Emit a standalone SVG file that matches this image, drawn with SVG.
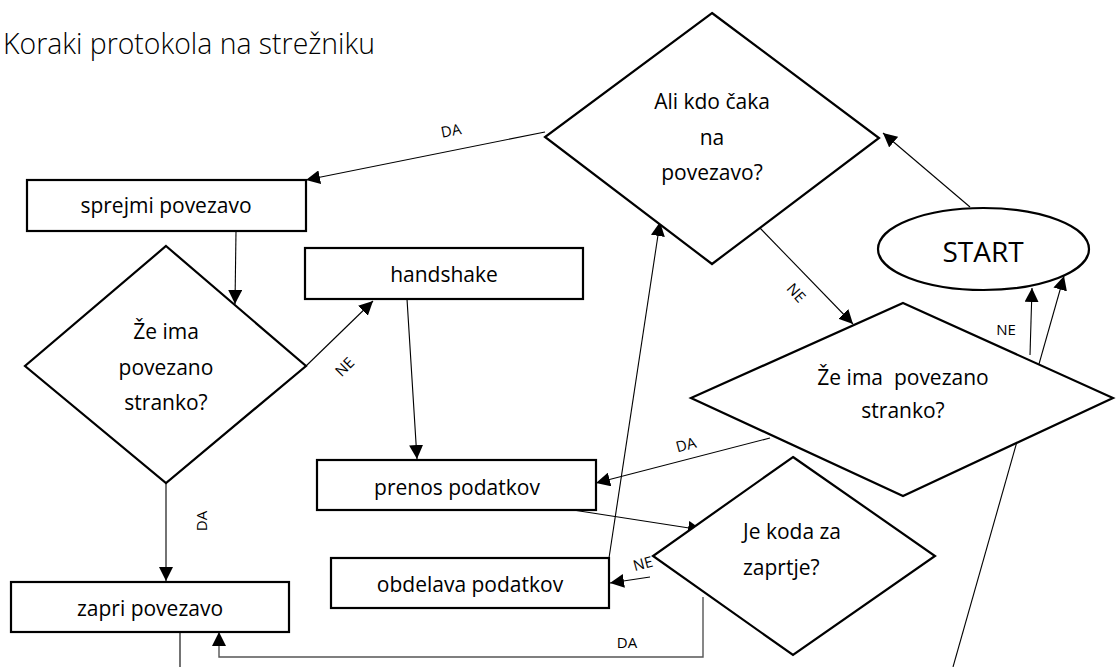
<svg xmlns="http://www.w3.org/2000/svg" width="1116" height="667" viewBox="0 0 1116 667">
  <style>
    .box { fill: #ffffff; stroke: #000000; stroke-width: 2.2; }
    .dia { fill: #ffffff; stroke: #000000; stroke-width: 2.2; stroke-linejoin: miter; }
    .txt { font-family: "Open Sans", "Liberation Sans", sans-serif; font-size: 21px; fill: #000000; }
    .mid { text-anchor: middle; }
    .lbl { font-family: "Open Sans", "Liberation Sans", sans-serif; font-size: 15px; fill: #000000; text-anchor: middle; }
    .title { font-family: "Open Sans", "Liberation Sans", sans-serif; font-weight: 300; font-size: 29px; fill: #000000; }
    .edge { fill: none; stroke: #000000; stroke-width: 1.1; }
    .edge-gray { fill: none; stroke: #555555; stroke-width: 1.4; }
  </style>
  <defs>
    <marker id="arrow" markerUnits="userSpaceOnUse" markerWidth="14" markerHeight="14" refX="14" refY="7" orient="auto">
      <path d="M0,0 L14,7 L0,14 z" fill="#000000"/>
    </marker>
  </defs>

  <rect width="1116" height="667" fill="#ffffff"/>

  <text class="title" x="3" y="54" textLength="372" lengthAdjust="spacingAndGlyphs">Koraki protokola na strežniku</text>

  <!-- connectors -->
  <g id="connectors">
    <path class="edge" d="M545,132 L306,180" marker-end="url(#arrow)"/>
    <path class="edge" d="M236,231 L235,304" marker-end="url(#arrow)"/>
    <path class="edge" d="M306,366 L373,301" marker-end="url(#arrow)"/>
    <path class="edge" d="M166,483 L166,581" marker-end="url(#arrow)"/>
    <path class="edge" d="M407,299 L417,459" marker-end="url(#arrow)"/>
    <path class="edge" d="M573,510 L702,530" marker-end="url(#arrow)"/>
    <path class="edge" d="M650,577 L610,583" marker-end="url(#arrow)"/>
    <path class="edge" d="M609,558 L660,222" marker-end="url(#arrow)"/>
    <path class="edge" d="M759,227 L853,324" marker-end="url(#arrow)"/>
    <path class="edge" d="M770,438 L596,483" marker-end="url(#arrow)"/>
    <path class="edge" d="M1030,355 L1032,288" marker-end="url(#arrow)"/>
    <path class="edge" d="M970,207 L883,133" marker-end="url(#arrow)"/>
    <path class="edge" d="M953,667 L1064,276" marker-end="url(#arrow)"/>
    <path class="edge-gray" d="M703,597 L703,657 L219,657 L219,632" marker-end="url(#arrow)"/>
    <path class="edge" d="M180,632 L180,667"/>

    <text class="lbl" transform="translate(451,131) rotate(-11)" x="0" y="5">DA</text>
    <text class="lbl" transform="translate(345,367) rotate(-45)" x="0" y="5">NE</text>
    <text class="lbl" transform="translate(202,521) rotate(-90)" x="0" y="5">DA</text>
    <text class="lbl" transform="translate(796,293) rotate(48)" x="0" y="5">NE</text>
    <text class="lbl" transform="translate(686,445) rotate(-15)" x="0" y="5">DA</text>
    <text class="lbl" x="1006" y="335">NE</text>
    <text class="lbl" transform="translate(643,564) rotate(-15)" x="0" y="5">NE</text>
    <text class="lbl" x="627" y="648">DA</text>
  </g>

  <!-- process boxes -->
  <g id="sprejmi">
    <rect class="box" x="27" y="180" width="279" height="51"/>
    <text class="txt mid" x="166" y="213">sprejmi povezavo</text>
  </g>
  <g id="handshake">
    <rect class="box" x="305" y="248" width="278" height="51"/>
    <text class="txt mid" x="444" y="282">handshake</text>
  </g>
  <g id="prenos">
    <rect class="box" x="317" y="460" width="279" height="50"/>
    <text class="txt mid" x="457" y="495">prenos podatkov</text>
  </g>
  <g id="obdelava">
    <rect class="box" x="331" y="558" width="278" height="50"/>
    <text class="txt mid" x="470" y="592">obdelava podatkov</text>
  </g>
  <g id="zapri">
    <rect class="box" x="11" y="582" width="278" height="50"/>
    <text class="txt mid" x="150" y="616">zapri povezavo</text>
  </g>

  <!-- decisions -->
  <g id="ali-kdo-caka">
    <polygon class="dia" points="712,13 879,138 712,264 545,137"/>
    <text class="txt mid" x="712" y="109">Ali kdo čaka</text>
    <text class="txt mid" x="712" y="145">na</text>
    <text class="txt mid" x="712" y="180">povezavo?</text>
  </g>
  <g id="ze-ima-levo">
    <polygon class="dia" points="166,246 306,366 166,483 25,366"/>
    <text class="txt mid" x="166" y="339">Že ima</text>
    <text class="txt mid" x="166" y="375">povezano</text>
    <text class="txt mid" x="166" y="410">stranko?</text>
  </g>
  <g id="ze-ima-desno">
    <polygon class="dia" points="903,303 1113,398 903,496 691,398"/>
    <text class="txt mid" x="903" y="385" xml:space="preserve">Že ima  povezano</text>
    <text class="txt mid" x="903" y="418">stranko?</text>
  </g>
  <g id="je-koda">
    <polygon class="dia" points="793,457 935,556 793,655 653,556"/>
    <text class="txt" x="743" y="539">Je koda za</text>
    <text class="txt" x="743" y="575">zaprtje?</text>
  </g>

  <!-- start -->
  <g id="start">
    <ellipse class="box" cx="983.5" cy="249" rx="105.5" ry="41"/>
    <text class="txt mid" x="983" y="262" style="font-size:28px">START</text>
  </g>
</svg>
